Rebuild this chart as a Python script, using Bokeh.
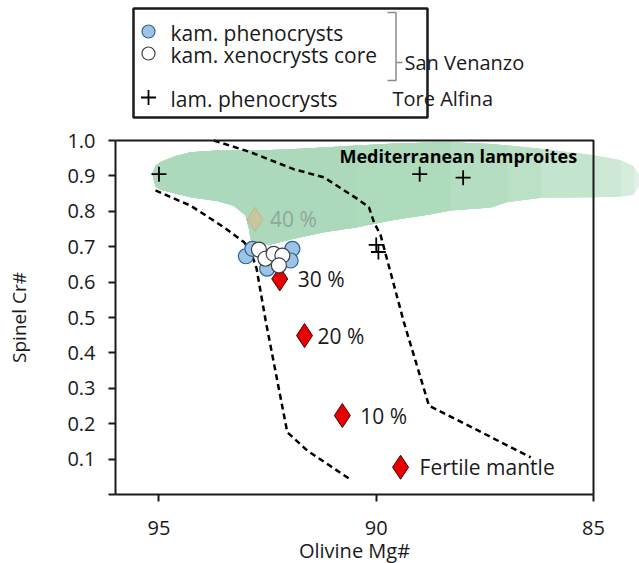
from math import pi
from bokeh.plotting import figure
from bokeh.models import Range1d, FixedTicker, Label, PrintfTickFormatter, LinearAxis, Grid
from bokeh.core.properties import value
from bokeh.embed import file_html
from bokeh.resources import INLINE

# ---------------- data ----------------
kam_pheno_mg = [93.00, 92.85, 91.93, 91.97, 92.51]
kam_pheno_cr = [0.673, 0.694, 0.694, 0.661, 0.638]

kam_xeno_mg = [92.70, 92.55, 92.36, 92.16, 92.24]
kam_xeno_cr = [0.692, 0.666, 0.680, 0.675, 0.647]

lam_pheno_mg = [95.0, 89.0, 88.0, 90.0, 89.95]
lam_pheno_cr = [0.905, 0.905, 0.895, 0.705, 0.685]

melt_labels = ["Fertile mantle", "10 %", "20 %", "30 %", "40 %"]
melt_mg = [89.44, 90.78, 91.65, 92.22, 92.79]
melt_cr = [0.077, 0.223, 0.449, 0.609, 0.777]

trend_a_mg = [95.079, 94.273, 93.506, 93.046, 92.892, 92.753, 92.546, 92.047, 91.586, 90.589]
trend_a_cr = [0.859, 0.816, 0.755, 0.713, 0.689, 0.638, 0.492, 0.176, 0.124, 0.042]

trend_b_mg = [93.737, 92.892, 91.901, 91.204, 90.435, 90.168, 90.052, 89.898, 89.362, 88.786, 86.444]
trend_b_cr = [1.0, 0.967, 0.919, 0.896, 0.835, 0.812, 0.769, 0.732, 0.486, 0.251, 0.105]

field_mg = [95.155, 95.079, 94.964, 94.618, 94.273, 93.658, 93.276, 93.007, 92.931, 92.869,
            92.431, 91.971, 91.204, 90.435, 89.668, 88.747, 88.287, 87.365, 86.981, 86.214,
            84.994, 84.372, 84.073, 83.958]
field_cr_top = [0.906, 0.929, 0.939, 0.956, 0.967, 0.972, 0.972, 0.972, 0.972, 0.972,
                0.973, 0.975, 0.980, 0.986, 0.991, 0.994, 0.995, 0.990, 0.986, 0.977,
                0.958, 0.944, 0.927, 0.904]
field_cr_bot = [0.906, 0.870, 0.861, 0.850, 0.840, 0.829, 0.816, 0.788, 0.751, 0.709,
                0.706, 0.720, 0.741, 0.755, 0.774, 0.792, 0.802, 0.811, 0.826, 0.838,
                0.840, 0.842, 0.847, 0.870]

x_ticks = [95, 90, 85]
y_ticks = [0.1, 0.2, 0.3, 0.4, 0.5, 0.6, 0.7, 0.8, 0.9, 1.0]
x_title = "Olivine Mg#"
y_title = "Spinel Cr#"

# ---------------- styling / layout ----------------
FONT = "Open Sans"
INK = "#1a1a1a"
melt_label_dx = [19, 18, 13, 18, 15]
field_layers = [(24, "#e2f1e7"), (23, "#d6ecdd"), (22, "#cce8d5"), (21, "#c3e4cd"),
                (20, "#bae0c6"), (19, "#b4ddc1"), (17, "#afdbbd"), (14, "#acd9bb")]

W, H = 639, 563
PX_X0, PX_Y0 = 115.0, 494.0          # pixel position of (96, 0)
KX = (593.0 - 115.0) / 11.0          # pixels per Mg# unit
KY = 354.0                           # pixels per Cr# unit


def sx(px):
    return 96.0 - (px - PX_X0) / KX


def sy(py):
    return (PX_Y0 - py) / KY


p = figure(width=W, height=H,
           x_range=Range1d(sx(0), sx(W)), y_range=Range1d(sy(H), sy(0)),
           x_axis_location=None, y_axis_location=None,
           output_backend="svg", toolbar_location=None,
           min_border=0, min_border_left=0, min_border_right=0,
           min_border_top=0, min_border_bottom=0)
p.outline_line_color = None
p.background_fill_color = "white"
p.border_fill_color = "white"
for r in list(p.center):
    if isinstance(r, Grid):
        r.visible = False
        r.grid_line_color = None

xa = LinearAxis(fixed_location=0.0, ticker=FixedTicker(ticks=x_ticks, minor_ticks=[]),
                bounds=(85, 96))
ya = LinearAxis(fixed_location=96.0, ticker=FixedTicker(ticks=y_ticks, minor_ticks=[0.0]),
                bounds=(0, 1), formatter=PrintfTickFormatter(format="%.1f"))
for ax in (xa, ya):
    ax.axis_line_width = 2
    ax.axis_line_color = INK
    ax.major_tick_out = 7
    ax.major_tick_in = 0
    ax.major_tick_line_width = 2
    ax.major_tick_line_color = INK
    ax.minor_tick_out = 7
    ax.minor_tick_in = 0
    ax.minor_tick_line_width = 2
    ax.minor_tick_line_color = INK
    ax.major_label_text_font = FONT
    ax.major_label_text_font_size = "20px"
    ax.major_label_text_color = INK
xa.major_label_standoff = 19
ya.major_label_standoff = 13
p.add_layout(xa, "below")
p.add_layout(ya, "left")

# axis titles
p.text(x=[sx(354)], y=[sy(550)], text=[x_title], text_align="center", text_baseline="middle",
       text_font=value(FONT), text_font_size="20px", text_color=INK)
p.text(x=[sx(18)], y=[0.5], text=[y_title], angle=pi / 2, text_align="center",
       text_baseline="middle", text_font=value(FONT), text_font_size="19px", text_color=INK)

# lamproite field (fading to the right)
for n, col in field_layers:
    p.varea(x=field_mg[:n], y1=field_cr_bot[:n], y2=field_cr_top[:n], fill_color=col)

# 40 % model point (veiled by the field)
p.scatter(x=melt_mg[4:], y=melt_cr[4:], marker="diamond", size=24,
          fill_color="#c9c59c", line_color="#b9b68f", line_width=1)
p.text(x=melt_mg[4:], y=melt_cr[4:], text=melt_labels[4:], x_offset=melt_label_dx[4:],
       text_baseline="middle", text_align="left", text_font=value(FONT),
       text_font_size="21px", text_color="#90a89a")

# dashed trends
p.line(trend_a_mg, trend_a_cr, line_color="black", line_width=2.5, line_dash="6 4")
p.line(trend_b_mg, trend_b_cr, line_color="black", line_width=2.5, line_dash="6 4")

# melting model points
p.scatter(x=melt_mg[:4], y=melt_cr[:4], marker="diamond", size=24,
          fill_color="#e60000", line_color="#4a0000", line_width=1)
p.text(x=melt_mg[:4], y=melt_cr[:4], text=melt_labels[:4], x_offset=melt_label_dx[:4],
       text_baseline="middle", text_align="left", text_font=value(FONT),
       text_font_size="21px", text_color=INK)

# San Venanzo kamafugites
p.scatter(x=kam_pheno_mg, y=kam_pheno_cr, marker="circle", size=15,
          fill_color="#9dc3e6", line_color="#2f6497", line_width=1.2)
p.scatter(x=kam_xeno_mg, y=kam_xeno_cr, marker="circle", size=15,
          fill_color="white", line_color="#404040", line_width=1.2)

# Tore Alfina lamproites
p.scatter(x=lam_pheno_mg, y=lam_pheno_cr, marker="cross", size=15,
          line_color="black", line_width=1.8)

p.add_layout(Label(x=sx(339), y=sy(155), text="Mediterranean lamproites",
                   text_font=FONT, text_font_style="bold", text_font_size="18px",
                   text_color="black", text_baseline="middle", text_align="left"))

# frame top/right
p.line([96, 85, 85], [1.0, 1.0, 0.0], line_color=INK, line_width=2)

# legend box
p.quad(left=sx(133), right=sx(427), top=sy(8), bottom=sy(117),
       fill_color="white", line_color=INK, line_width=2.5)
p.scatter(x=[sx(148)], y=[sy(31)], marker="circle", size=13,
          fill_color="#9dc3e6", line_color="#2f6497", line_width=1.2)
p.scatter(x=[sx(148)], y=[sy(53)], marker="circle", size=13,
          fill_color="white", line_color="#404040", line_width=1.2)
p.scatter(x=[sx(148)], y=[sy(97)], marker="cross", size=15,
          line_color="black", line_width=1.8)
p.text(x=[sx(170)] * 3, y=[sy(32), sy(54), sy(98)],
       text=["kam. phenocrysts", "kam. xenocrysts core", "lam. phenocrysts"],
       text_baseline="middle", text_align="left", text_font=value(FONT),
       text_font_size="21px", text_color=INK)
p.line([sx(387), sx(395.5), sx(395.5), sx(387)], [sy(12), sy(12), sy(80), sy(80)],
       line_color="#8c8c8c", line_width=1.5)
p.line([sx(395.5), sx(402)], [sy(62), sy(62)], line_color="#8c8c8c", line_width=1.5)
p.text(x=[sx(404), sx(392)], y=[sy(62), sy(98)], text=["San Venanzo", "Tore Alfina"],
       text_baseline="middle", text_align="left", text_font=value(FONT),
       text_font_size="20px", text_color=INK)

open("out.html", "w").write(file_html(p, INLINE))
